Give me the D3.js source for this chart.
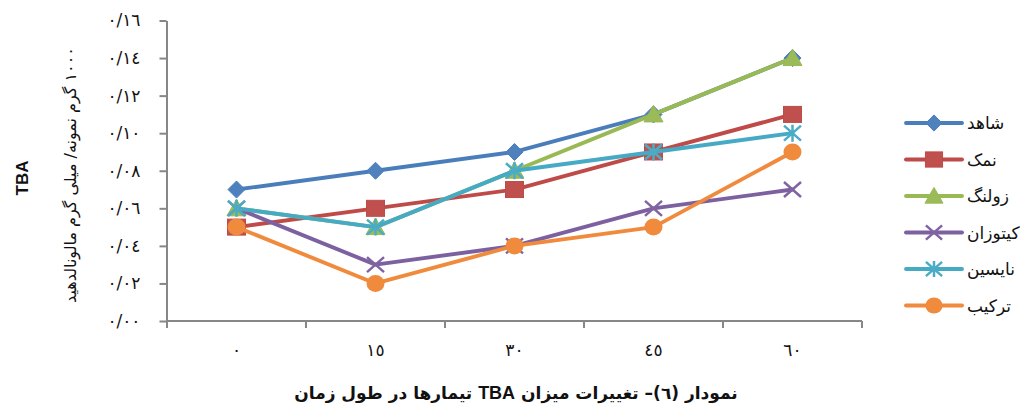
<!DOCTYPE html>
<html><head><meta charset="utf-8">
<script src="https://cdn.jsdelivr.net/npm/d3@7"></script>
<style>body{margin:0;background:#fff}svg{display:block}</style>
</head><body>
<svg id="c" width="1029" height="408"></svg>
<script>
// ---- data ----
const categories = ["٠","١٥","٣٠","٤٥","٦٠"];
const seriesNames = ["شاهد","نمک","زولنگ","کیتوزان","نایسین","ترکیب"];
const shahed   = [0.07,0.08,0.09,0.11,0.14];
const namak    = [0.05,0.06,0.07,0.09,0.11];
const zoleng   = [0.06,0.05,0.08,0.11,0.14];
const chitosan = [0.06,0.03,0.04,0.06,0.07];
const nisin    = [0.06,0.05,0.08,0.09,0.10];
const tarkib   = [0.05,0.02,0.04,0.05,0.09];
const yTicks = [0,0.02,0.04,0.06,0.08,0.10,0.12,0.14,0.16];
const yTickLabels = ["٠/٠٠","٠/٠٢","٠/٠٤","٠/٠٦","٠/٠٨","٠/١٠","٠/١٢","٠/١٤","٠/١٦"];
const yTitleLatin = "TBA";
const yTitle = "١٠٠٠ گرم نمونه/ میلی گرم مالونالدهید";
const xTitleA = "نمودار (٦)– تغییرات میزان ";
const xTitleB = "TBA";
const xTitleC = " تیمارها در طول زمان";

const values = [shahed, namak, zoleng, chitosan, nisin, tarkib];
const lineColors = ["#4A7EBB","#BE4B48","#98B954","#7D60A0","#46AAC5","#F08A3C"];
const fillColors = ["#4F81BD","#C0504D","#9BBB59","#8064A2","#4BACC6","#F08A3C"];
const markerTypes = ["diamond","square","triangle","x","star","circle"];

const svg = d3.select("#c");
const x = d3.scaleBand().domain(categories).range([167, 862]);
const y = d3.scaleLinear().domain([0, 0.16]).range([321, 20.5]);
const axisColor = "#878787";
const arabicFont = "'DejaVu Sans', sans-serif";

// y axis
const yAxis = svg.append("g").attr("transform", "translate(166.5,0)")
  .call(d3.axisLeft(y).tickValues(yTicks).tickFormat((d,i)=>yTickLabels[i]).tickSize(7).tickSizeOuter(0).tickPadding(19));
yAxis.select(".domain").attr("stroke", axisColor).attr("stroke-width", 2);
yAxis.selectAll(".tick line").attr("stroke", axisColor).attr("stroke-width", 2);
yAxis.selectAll(".tick text").attr("font-family", arabicFont).attr("font-size", 17).attr("fill", "#111");

// x axis (ticks between categories)
const xg = svg.append("g");
xg.append("line").attr("x1", x.range()[0]).attr("x2", x.range()[1])
  .attr("y1", y(0)).attr("y2", y(0)).attr("stroke", axisColor).attr("stroke-width", 2);
const bounds = categories.map(c => x(c)).concat([x.range()[1]]);
xg.selectAll("line.t").data(bounds).join("line").attr("class","t")
  .attr("x1", d=>d).attr("x2", d=>d).attr("y1", y(0)).attr("y2", y(0)+7)
  .attr("stroke", axisColor).attr("stroke-width", 2);
xg.selectAll("text").data(categories).join("text")
  .attr("x", d => x(d) + x.bandwidth()/2).attr("y", 356)
  .attr("text-anchor", "middle").attr("font-family", arabicFont).attr("font-size", 17).attr("fill", "#111")
  .text(d => d);

// marker drawer
function drawMarker(g, type, i, s) {
  s = s || 1;
  if (type === "diamond") {
    g.append("path").attr("d", `M0,${-8.5*s}L${8.5*s},0L0,${8.5*s}L${-8.5*s},0Z`).attr("fill", fillColors[i]).attr("stroke", lineColors[i]).attr("stroke-width", 1);
  } else if (type === "square") {
    g.append("rect").attr("x", -9*s).attr("y", -8*s).attr("width", 18*s).attr("height", 16*s).attr("fill", fillColors[i]).attr("stroke", lineColors[i]).attr("stroke-width", 1);
  } else if (type === "triangle") {
    g.append("path").attr("d", `M0,${-9*s}L${9.5*s},${7.5*s}L${-9.5*s},${7.5*s}Z`).attr("fill", fillColors[i]).attr("stroke", lineColors[i]).attr("stroke-width", 1);
  } else if (type === "x") {
    g.append("path").attr("d", `M${-8.5*s},${-7.5*s}L${8.5*s},${7.5*s}M${-8.5*s},${7.5*s}L${8.5*s},${-7.5*s}`).attr("stroke", fillColors[i]).attr("stroke-width", 2.5).attr("fill","none");
  } else if (type === "star") {
    g.append("path").attr("d", `M${-8.5*s},${-7.5*s}L${8.5*s},${7.5*s}M${-8.5*s},${7.5*s}L${8.5*s},${-7.5*s}M0,${-8.5*s}L0,${8.5*s}`).attr("stroke", fillColors[i]).attr("stroke-width", 2.5).attr("fill","none");
  } else {
    g.append("ellipse").attr("rx", 9*s).attr("ry", 8.5*s).attr("fill", fillColors[i]);
  }
}

// series
const line = d3.line().x((d,j) => x(categories[j]) + x.bandwidth()/2).y(d => y(d));
values.forEach((vals, i) => {
  const g = svg.append("g");
  g.append("path").datum(vals).attr("d", line).attr("fill","none")
    .attr("stroke", lineColors[i]).attr("stroke-width", 3.9).attr("stroke-linejoin","round").attr("stroke-linecap","round");
  vals.forEach((v, j) => {
    const mg = g.append("g").attr("transform", `translate(${x(categories[j]) + x.bandwidth()/2},${y(v)})`);
    drawMarker(mg, markerTypes[i], i);
  });
});

// legend
const lg = svg.append("g");
seriesNames.forEach((name, i) => {
  const ly = 123 + 36.5*i;
  lg.append("line").attr("x1", 906).attr("x2", 962).attr("y1", ly).attr("y2", ly)
    .attr("stroke", lineColors[i]).attr("stroke-width", 3.9).attr("stroke-linecap","round");
  const mg = lg.append("g").attr("transform", `translate(934,${ly})`);
  drawMarker(mg, markerTypes[i], i, 0.95);
  lg.append("text").attr("x", 967).attr("y", ly + 6).attr("font-family", arabicFont)
    .attr("font-size", 17).attr("fill", "#111").text(name);
});

// y titles
svg.append("text").attr("transform", "translate(28,178) rotate(-90)").attr("text-anchor","middle")
  .attr("font-family","'Liberation Sans', Arial, sans-serif").attr("font-weight","bold").attr("font-size",17)
  .attr("fill","#111").text(yTitleLatin);
svg.append("text").attr("transform", "translate(76,175) rotate(-90)").attr("text-anchor","middle")
  .attr("direction","rtl").attr("font-family", arabicFont).attr("font-size",16).attr("fill","#111").text(yTitle);

// x title
const xt = svg.append("text").attr("x", 516).attr("y", 399).attr("text-anchor","middle")
  .attr("direction","rtl").attr("font-family", arabicFont).attr("font-weight","bold").attr("font-size",17).attr("fill","#111");
xt.append("tspan").text(xTitleA);
xt.append("tspan").attr("font-family","'Liberation Sans', Arial, sans-serif").attr("font-size",18).text(xTitleB);
xt.append("tspan").text(xTitleC);
</script>
</body></html>
